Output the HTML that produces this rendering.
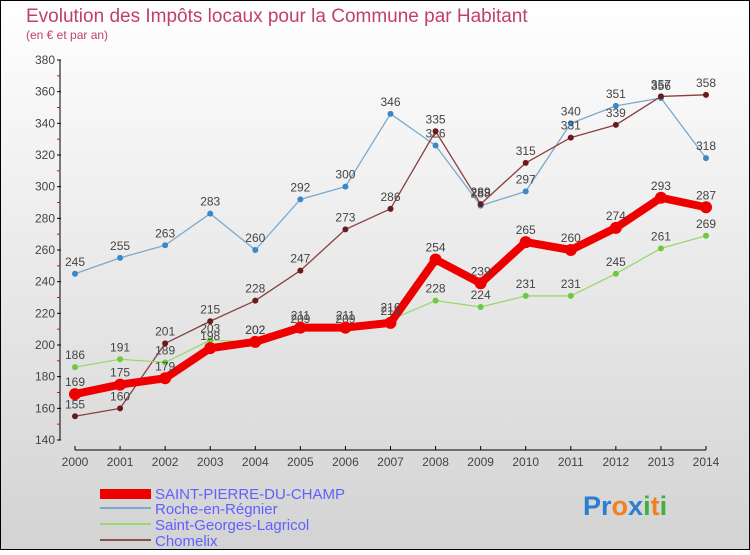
<!DOCTYPE html>
<html><head><meta charset="utf-8"><style>
html,body{margin:0;padding:0}
body{width:750px;height:550px;overflow:hidden;font-family:"Liberation Sans","DejaVu Sans",sans-serif}
svg text{font-family:"Liberation Sans","DejaVu Sans",sans-serif}
</style></head><body>
<svg id="chart" width="750" height="550" xmlns="http://www.w3.org/2000/svg">
<defs><linearGradient id="bg" x1="0" y1="0" x2="0" y2="1"><stop offset="0" stop-color="#ffffff"/><stop offset="1" stop-color="#d3d3d3"/></linearGradient></defs>
<rect x="0.5" y="0.5" width="749" height="549" fill="url(#bg)" stroke="#000"/>
<text x="26" y="22" font-size="19" fill="#c0406a">Evolution des Impôts locaux pour la Commune par Habitant</text>
<text x="26" y="39" font-size="12" fill="#c0406a">(en € et par an)</text>
<g id="axes"></g>
<g id="series"></g>
<g id="legend">
<rect x="100" y="489" width="51" height="10" fill="#e00"/>
<line x1="100" y1="508" x2="151" y2="508" stroke="#7aa9cf" stroke-width="2"/>
<line x1="100" y1="524" x2="151" y2="524" stroke="#9ad870" stroke-width="2"/>
<line x1="100" y1="540" x2="151" y2="540" stroke="#8a5050" stroke-width="2"/>
<text x="155" y="499" font-size="15" fill="#6060ff">SAINT-PIERRE-DU-CHAMP</text>
<text x="155" y="514" font-size="15" fill="#6060ff">Roche-en-Régnier</text>
<text x="155" y="530" font-size="15" fill="#6060ff">Saint-Georges-Lagricol</text>
<text x="155" y="546" font-size="15" fill="#6060ff">Chomelix</text>
</g>
<text x="583" y="515" font-size="27" font-weight="bold"><tspan fill="#2a7fd0">Pr</tspan><tspan fill="#f08020">o</tspan><tspan fill="#2a7fd0">x</tspan><tspan fill="#40b040">i</tspan><tspan fill="#f08020">t</tspan><tspan fill="#40b040">i</tspan></text>
</svg>
<script>
const years=[2000,2001,2002,2003,2004,2005,2006,2007,2008,2009,2010,2011,2012,2013,2014];
const yTicks=[140,160,180,200,220,240,260,280,300,320,340,360,380];
const spdc=[169,175,179,198,202,211,211,214,254,239,265,260,274,293,287];
const roche=[245,255,263,283,260,292,300,346,326,288,297,340,351,356,318];
const georges=[186,191,189,203,202,209,209,216,228,224,231,231,245,261,269];
const chomelix=[155,160,201,215,228,247,273,286,335,289,315,331,339,357,358];
const NS="http://www.w3.org/2000/svg";
function X(i){return 75+i*(706-75)/14;}
function Y(v){return 440-(v-140)*(380/240);}
function mk(t,a,p){const e=document.createElementNS(NS,t);for(const k in a)e.setAttribute(k,a[k]);p.appendChild(e);return e;}
const ax=document.getElementById('axes');
let l=mk('line',{x1:60,y1:60,x2:60,y2:440,stroke:'#000'},ax);


l=mk('line',{x1:75,y1:450,x2:706,y2:450,stroke:'#000'},ax);


yTicks.forEach((v,i)=>{
  mk('line',{x1:57,y1:Y(v),x2:61,y2:Y(v),stroke:'#000'},ax);
  if(i<yTicks.length-1)mk('line',{x1:57,y1:Y(v+10),x2:60,y2:Y(v+10),stroke:'#f00'},ax);
  const t=mk('text',{x:55,y:Y(v)+4,'font-size':12,'text-anchor':'end',fill:'#444'},ax);
  t.textContent=v;
  
  
});
years.forEach((y,i)=>{
  mk('line',{x1:X(i),y1:446,x2:X(i),y2:450,stroke:'#000'},ax);
  const t=mk('text',{x:X(i),y:466,'font-size':12,'text-anchor':'middle',fill:'#444'},ax);
  t.textContent=y;
  
  
});
const sg=document.getElementById('series');
function draw(vals,name,color,w,r,dot){
  const g=mk('g',{},sg);
  
  
  const p=mk('polyline',{points:vals.map((v,i)=>X(i)+','+Y(v)).join(' '),fill:'none',stroke:color,'stroke-width':w,'stroke-linejoin':'round'},g);
  
  
  vals.forEach((v,i)=>{
    const c=mk('circle',{cx:X(i),cy:Y(v),r:r,fill:dot},g);
    
    
    const t=mk('text',{x:X(i),y:Y(v)-8,'font-size':12,'text-anchor':'middle',fill:'#444'},g);
    t.textContent=v;
    
    
  });
}
draw(roche,'roche','#7aa9cf',1.3,3,'#3a88c8');
draw(chomelix,'chomelix','#8a4040',1.3,3,'#6a1a1a');
draw(georges,'saint-georges','#9ad870',1.3,3,'#70c840');
draw(spdc,'saint-pierre','#e00',8,6,'#e00');
</script>
</body></html>
